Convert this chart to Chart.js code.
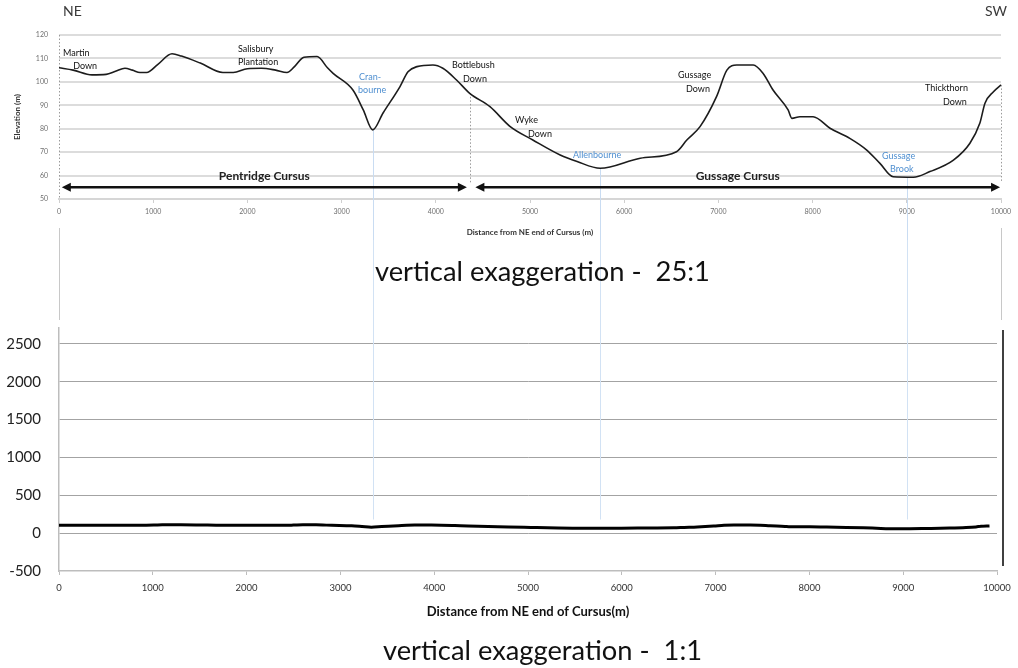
<!DOCTYPE html>
<html>
<head>
<meta charset="utf-8">
<script src="https://cdn.jsdelivr.net/npm/chart.js@4.4.1/dist/chart.umd.min.js"></script>
<style>
  html, body { margin: 0; padding: 0; background: #fff; }
  body { width: 1018px; height: 668px; position: relative; overflow: hidden; font-family: Lato, "Open Sans", sans-serif; }
  #wrapTop { position: absolute; left: 0; top: 0; width: 1018px; height: 240px; filter: blur(0.55px); }
  #wrapBottom { position: absolute; left: 0; top: 240px; width: 1018px; height: 428px; }
  .dir { position: absolute; top: 2px; font-size: 14px; color: #3a3a3a; }
  .cap { position: absolute; font-size: 27.3px; color: #111; white-space: pre; }
</style>
</head>
<body>
<div id="wrapTop">
  <canvas id="profileExaggerated"></canvas>
  <div class="dir" style="left:63px">NE</div>
  <div class="dir" style="left:985px">SW</div>
</div>
<div id="wrapBottom"><canvas id="profileTrue"></canvas></div>
<div class="cap" style="left:375px;top:254px">vertical exaggeration -  25:1</div>
<div class="cap" style="left:383px;top:633px">vertical exaggeration -  1:1</div>

<script>
// Ground profile along the cursus, NE end to SW end
const distance = [0, 150, 350, 500, 600, 700, 780, 860, 930, 1050, 1200, 1300, 1500, 1740, 1850,
  2000, 2150, 2300, 2420, 2500, 2600, 2740, 2850, 2910, 3120, 3230, 3330, 3440, 3620, 3705,
  3800, 3970, 4075, 4220, 4360, 4575, 4790, 5030, 5320, 5500, 5745, 6170, 6555, 6665, 6805,
  6980, 7090, 7195, 7370, 7475, 7580, 7740, 7780, 7865, 8005, 8185, 8395, 8575, 8715, 8855,
  9070, 9245, 9495, 9670, 9775, 9830, 9920, 10000];
const elevation = [106, 105, 103, 103.2, 104.5, 105.8, 105, 104, 104, 107.5, 112, 111, 108, 104, 104,
  105.6, 105.8, 105, 104, 106.5, 110.5, 110.8, 106, 103.6, 96.5, 88, 79.5, 86.7, 98, 104.3,
  106.5, 107.2, 105.8, 100.8, 95.1, 89.4, 80.9, 75.2, 68.8, 66, 63.1, 67.4, 70.2, 75.2, 80.9,
  93.7, 105, 107.2, 107.2, 103.6, 96.5, 88, 84.4, 85.1, 85.1, 80.2, 75.9, 70.9, 65.2, 59.5,
  59.3, 61.7, 66.6, 73.8, 82.3, 90.9, 95.8, 98.7];

// Axis ticks
const distanceTicks = [0, 1000, 2000, 3000, 4000, 5000, 6000, 7000, 8000, 9000, 10000];
const elevationTicks = [50, 60, 70, 80, 90, 100, 110, 120];
const trueScaleTicks = [-500, 0, 500, 1000, 1500, 2000, 2500];

// Place names along the route (anchored at distance / elevation)
const placeNames = [
  { text: 'Martin', at: [42, 112.3] }, { text: 'Down', at: [150, 106.8] },
  { text: 'Salisbury', at: [1900, 114] }, { text: 'Plantation', at: [1900, 108.5] },
  { text: 'Cran-', at: [3185, 102], water: true }, { text: 'bourne', at: [3175, 96.5], water: true },
  { text: 'Bottlebush', at: [4172, 107.2] }, { text: 'Down', at: [4289, 101.2] },
  { text: 'Wyke', at: [4841, 83.7] }, { text: 'Down', at: [4979, 77.7] },
  { text: 'Allenbourne', at: [5456, 68.8], water: true },
  { text: 'Gussage', at: [6571, 102.9] }, { text: 'Down', at: [6656, 97] },
  { text: 'Gussage', at: [8737, 68.4], water: true }, { text: 'Brook', at: [8822, 62.8], water: true },
  { text: 'Thickthorn', at: [9193, 97.4] }, { text: 'Down', at: [9384, 91.4] }
];

// The two monuments, drawn as double-headed spans
const cursusNames = ['Pentridge Cursus', 'Gussage Cursus'];
const cursusStart = [30, 4420];
const cursusEnd = [4330, 9990];
const cursusLevel = 55;

// Streams crossed by the cursus (valley floors)
const streamCrossings = [3330, 5745, 9000];
const junctionAt = 4360;

const profilePoints = distance.map((d, i) => ({ x: d, y: elevation[i] }));
const nearestElevation = d => {
  let best = 0;
  distance.forEach((v, i) => { if (Math.abs(v - d) < Math.abs(distance[best] - d)) best = i; });
  return elevation[best];
};
const plainNumber = v => String(v);

function arrowHead(ctx, x, y, dir) {
  ctx.beginPath();
  ctx.moveTo(x, y);
  ctx.lineTo(x - dir * 9, y - 4.5);
  ctx.lineTo(x - dir * 9, y + 4.5);
  ctx.closePath();
  ctx.fill();
}

const exaggeratedDecor = {
  id: 'exaggeratedDecor',
  beforeDatasetsDraw(chart) {
    const { ctx, chartArea: a, scales: { x, y } } = chart;
    ctx.save();
    // stream guides run down from the valley floor
    ctx.strokeStyle = '#c9dcf2';
    ctx.lineWidth = 1;
    streamCrossings.forEach(d => {
      const px = Math.round(x.getPixelForValue(d)) + 0.5;
      ctx.beginPath();
      ctx.moveTo(px, y.getPixelForValue(nearestElevation(d)));
      ctx.lineTo(px, chart.height);
      ctx.stroke();
    });
    // dotted left axis and drop lines at the junction and at the SW end
    ctx.strokeStyle = '#9a9a9a';
    ctx.setLineDash([1.5, 2]);
    ctx.beginPath();
    ctx.moveTo(Math.round(a.left) + 0.5, a.top);
    ctx.lineTo(Math.round(a.left) + 0.5, a.bottom);
    ctx.stroke();
    [junctionAt, 10000].forEach(d => {
      const px = Math.round(x.getPixelForValue(d)) + 0.5;
      ctx.beginPath();
      ctx.moveTo(px, y.getPixelForValue(nearestElevation(d)));
      ctx.lineTo(px, y.getPixelForValue(57));
      ctx.stroke();
    });
    ctx.restore();
  },
  afterDatasetsDraw(chart) {
    const { ctx, scales: { x, y } } = chart;
    ctx.save();
    // cursus spans
    ctx.strokeStyle = '#111';
    ctx.fillStyle = '#111';
    ctx.lineWidth = 2.6;
    const py = y.getPixelForValue(cursusLevel);
    cursusNames.forEach((name, i) => {
      const x0 = x.getPixelForValue(cursusStart[i]);
      const x1 = x.getPixelForValue(cursusEnd[i]);
      ctx.beginPath();
      ctx.moveTo(x0 + 6, py);
      ctx.lineTo(x1 - 6, py);
      ctx.stroke();
      arrowHead(ctx, x0, py, -1);
      arrowHead(ctx, x1, py, 1);
      ctx.font = 'bold 12px Lato, "Open Sans", sans-serif';
      ctx.textAlign = 'center';
      ctx.textBaseline = 'middle';
      ctx.fillStyle = '#222';
      ctx.fillText(name, x.getPixelForValue((cursusStart[i] + cursusEnd[i]) / 2), y.getPixelForValue(59.8));
      ctx.fillStyle = '#111';
    });
    // place names
    ctx.font = '9px Lato, "Open Sans", sans-serif';
    ctx.textAlign = 'left';
    ctx.textBaseline = 'middle';
    placeNames.forEach(p => {
      ctx.fillStyle = p.water ? '#4f8fd0' : '#111';
      ctx.fillText(p.text, x.getPixelForValue(p.at[0]), y.getPixelForValue(p.at[1]));
    });
    // side rules continuing below the plot
    ctx.strokeStyle = '#c8c8c8';
    ctx.lineWidth = 1;
    [chart.chartArea.left, chart.chartArea.right].forEach(px => {
      ctx.beginPath();
      ctx.moveTo(Math.round(px) + 0.5, 228);
      ctx.lineTo(Math.round(px) + 0.5, chart.height);
      ctx.stroke();
    });
    ctx.restore();
  }
};

const topChart = new Chart(document.getElementById('profileExaggerated'), {
  type: 'line',
  data: {
    datasets: [{
      data: profilePoints,
      borderColor: '#1c1c1c',
      borderWidth: 1.6,
      pointRadius: 0,
      cubicInterpolationMode: 'monotone',
      fill: false
    }]
  },
  options: {
    responsive: true,
    maintainAspectRatio: false,
    animation: false,
    events: [],
    layout: { padding: { top: 35, right: 17, left: 0, bottom: 0 } },
    plugins: { legend: { display: false }, tooltip: { enabled: false } },
    scales: {
      x: {
        type: 'linear', min: 0, max: 10000,
        afterBuildTicks: s => { s.ticks = distanceTicks.map(v => ({ value: v })); },
        afterFit: s => { s.height = 41; },
        grid: { drawOnChartArea: false, tickLength: 4, color: '#cfcfcf' },
        border: { color: '#d6d6d6', width: 2 },
        ticks: { color: '#6f6f6f', font: { size: 7, family: 'Lato' }, padding: 5, maxRotation: 0, callback: plainNumber },
        title: { display: true, text: 'Distance from NE end of Cursus (m)', color: '#333',
          font: { size: 8, weight: 'bold', family: 'Lato' }, padding: { top: 0, bottom: 3 } }
      },
      y: {
        type: 'linear', min: 50, max: 120,
        afterBuildTicks: s => { s.ticks = elevationTicks.map(v => ({ value: v })); },
        afterFit: s => { s.width = 59; },
        grid: { color: '#dcdcdc', lineWidth: 2, drawTicks: false },
        border: { display: false },
        ticks: { color: '#6f6f6f', font: { size: 7, family: 'Lato' }, padding: 11, callback: plainNumber },
        title: { display: true, text: 'Elevation (m)', color: '#333',
          font: { size: 8, weight: 'bold', family: 'Lato' }, padding: { top: 13, bottom: 0 } }
      }
    }
  },
  plugins: [exaggeratedDecor]
});

const trueDecor = {
  id: 'trueDecor',
  beforeDatasetsDraw(chart) {
    const { ctx, scales: { y } } = chart;
    const tx = topChart.scales.x;
    ctx.save();
    ctx.strokeStyle = '#d2e2f4';
    ctx.lineWidth = 1;
    streamCrossings.forEach(d => {
      const px = Math.round(tx.getPixelForValue(d)) + 0.5;
      ctx.beginPath();
      ctx.moveTo(px, 0);
      ctx.lineTo(px, y.getPixelForValue(180));
      ctx.stroke();
    });
    ctx.strokeStyle = '#c8c8c8';
    [topChart.chartArea.left, topChart.chartArea.right].forEach(px => {
      ctx.beginPath();
      ctx.moveTo(Math.round(px) + 0.5, 0);
      ctx.lineTo(Math.round(px) + 0.5, 80);
      ctx.stroke();
    });
    ctx.restore();
  },
  afterDraw(chart) {
    const { ctx, chartArea: a } = chart;
    ctx.save();
    ctx.strokeStyle = '#000';
    ctx.lineWidth = 1.5;
    ctx.beginPath();
    ctx.moveTo(a.right + 6, a.top + 2);
    ctx.lineTo(a.right + 6, a.bottom - 5);
    ctx.stroke();
    ctx.restore();
  }
};

new Chart(document.getElementById('profileTrue'), {
  type: 'line',
  data: {
    datasets: [{
      data: profilePoints.filter(p => p.x < 9950),
      borderColor: '#000',
      borderWidth: 3,
      pointRadius: 0,
      cubicInterpolationMode: 'monotone',
      fill: false
    }]
  },
  options: {
    responsive: true,
    maintainAspectRatio: false,
    animation: false,
    events: [],
    layout: { padding: { top: 88, right: 21, left: 0, bottom: 0 } },
    plugins: { legend: { display: false }, tooltip: { enabled: false } },
    scales: {
      x: {
        type: 'linear', min: 0, max: 10000,
        afterBuildTicks: s => { s.ticks = distanceTicks.map(v => ({ value: v })); },
        afterFit: s => { s.height = 97; },
        grid: { drawOnChartArea: false, tickLength: 4, color: '#bdbdbd' },
        border: { color: '#bdbdbd', width: 1.5 },
        ticks: { color: '#333', font: { size: 9.5, family: 'Lato' }, padding: 7, maxRotation: 0, callback: plainNumber },
        title: { display: true, text: 'Distance from NE end of Cursus(m)', color: '#111',
          font: { size: 13, weight: 'bold', family: 'Lato' }, padding: { top: 0, bottom: 48 } }
      },
      y: {
        type: 'linear', min: -500, max: 2710,
        afterBuildTicks: s => { s.ticks = trueScaleTicks.map(v => ({ value: v })); },
        afterFit: s => { s.width = 59; },
        grid: { color: c => (c.tick && c.tick.value === -500) ? 'rgba(0,0,0,0)' : '#a3a3a3', lineWidth: 1, drawTicks: false },
        border: { color: '#bdbdbd', width: 1.5 },
        ticks: { color: '#222', font: { size: 15, family: 'Lato' }, padding: 18, callback: plainNumber }
      }
    }
  },
  plugins: [trueDecor]
});
</script>
</body>
</html>
